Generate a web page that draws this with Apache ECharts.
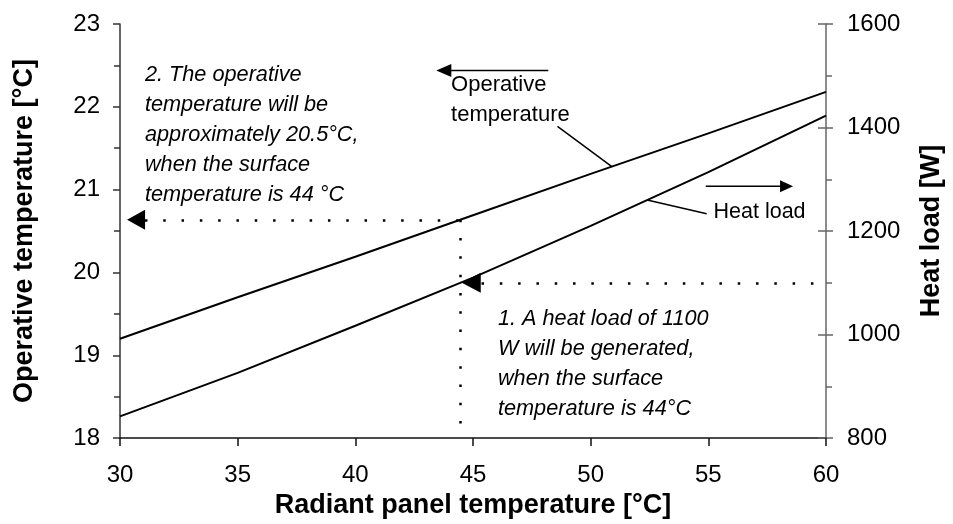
<!DOCTYPE html>
<html>
<head>
<meta charset="utf-8">
<script src="https://cdn.jsdelivr.net/npm/echarts@6/dist/echarts.min.js"></script>
<style>
  html, body { margin: 0; padding: 0; background: #fff; }
  #chart { width: 953px; height: 524px; }
</style>
</head>
<body>
<div id="chart"></div>
<script>
// Radiant panel surface temperature (°C)
const panelTemps = [30, 35, 40, 45, 50, 55, 60];
// Resulting operative temperature (°C), left axis
const operativeTemps = [19.20, 19.70, 20.19, 20.69, 21.19, 21.68, 22.18];
// Panel heat load (W), right axis
const heatLoads = [842, 926, 1017, 1110, 1210, 1314, 1423];

// Axis tick values
const xTicks = [30, 35, 40, 45, 50, 55, 60];
const leftTicks = [18, 19, 20, 21, 22, 23];
const rightTicks = [800, 1000, 1200, 1400, 1600];

const targetLoad = 1100;
const noteLoad = ['1. A heat load of 1100', 'W will be generated,', 'when the surface', 'temperature is 44°C'];
const noteOperative = ['2. The operative', 'temperature will be', 'approximately 20.5°C,', 'when the surface', 'temperature is 44 °C'];
const seriesLabels = ['Operative\ntemperature', 'Heat load'];

const FONT = '"Liberation Sans", Arial, Helvetica, sans-serif';

function interp(xs, ys, x) {
  for (let i = 0; i < xs.length - 1; i++) {
    if (x >= xs[i] && x <= xs[i + 1]) {
      const t = (x - xs[i]) / (xs[i + 1] - xs[i]);
      return ys[i] + t * (ys[i + 1] - ys[i]);
    }
  }
  return ys[ys.length - 1];
}
function inverse(xs, ys, y) {
  for (let i = 0; i < ys.length - 1; i++) {
    if (y >= ys[i] && y <= ys[i + 1]) {
      const t = (y - ys[i]) / (ys[i + 1] - ys[i]);
      return xs[i] + t * (xs[i + 1] - xs[i]);
    }
  }
  return xs[xs.length - 1];
}

// Surface temperature where the heat load reaches the target, and the operative temperature there
const exampleTemp = inverse(panelTemps, heatLoads, targetLoad);
const exampleOperative = interp(panelTemps, operativeTemps, exampleTemp);

const dotted = { color: '#000', width: 2.5, type: [2.5, 15.8], cap: 'butt' };

const axisDark = '#333';
const tickFont = { fontFamily: FONT, fontSize: 24, color: '#000' };
const titleFont = { fontFamily: FONT, fontWeight: 'bold', fontSize: 27, color: '#000' };

const option = {
  animation: false,
  backgroundColor: '#fff',
  grid: { left: 120, right: 123, top: 24, bottom: 79, containLabel: false },
  xAxis: {
    type: 'value',
    min: xTicks[0], max: xTicks[xTicks.length - 1], interval: xTicks[1] - xTicks[0],
    name: 'Radiant panel temperature [°C]',
    nameLocation: 'middle', nameGap: 51,
    nameTextStyle: titleFont,
    axisLine: { lineStyle: { color: '#111', width: 1.5 } },
    axisTick: { show: true, inside: false, length: 8, lineStyle: { color: '#111', width: 1.5 } },
    axisLabel: Object.assign({ margin: 25 }, tickFont),
    splitLine: { show: false }
  },
  yAxis: [
    {
      type: 'value', position: 'left',
      min: leftTicks[0], max: leftTicks[leftTicks.length - 1], interval: leftTicks[1] - leftTicks[0],
      name: 'Operative temperature [°C]',
      nameLocation: 'middle', nameGap: 82, nameRotate: 90,
      nameTextStyle: titleFont,
      axisLine: { show: true, lineStyle: { color: axisDark, width: 1.5 } },
      axisTick: { show: true, inside: false, length: 7, lineStyle: { color: axisDark, width: 1.5 } },
      minorTick: { show: true, splitNumber: 2, length: 6, lineStyle: { color: axisDark, width: 1.5 } },
      axisLabel: Object.assign({ margin: 20 }, tickFont),
      splitLine: { show: false }
    },
    {
      type: 'value', position: 'right',
      min: rightTicks[0], max: rightTicks[rightTicks.length - 1], interval: rightTicks[1] - rightTicks[0],
      name: 'Heat load [W]',
      nameLocation: 'middle', nameGap: 92, nameRotate: 90,
      nameTextStyle: titleFont,
      axisLine: { show: true, lineStyle: { color: '#666', width: 1.5 } },
      axisTick: { show: true, inside: false, length: 7, lineStyle: { color: '#666', width: 1.5 } },
      minorTick: { show: true, splitNumber: 2, length: 6, lineStyle: { color: '#666', width: 1.5 } },
      axisLabel: Object.assign({ margin: 21, formatter: (v) => String(v) }, tickFont),
      splitLine: { show: false }
    },
    {
      // inner half of the crossing major ticks on the heat-load axis
      type: 'value', position: 'right',
      min: rightTicks[0], max: rightTicks[rightTicks.length - 1], interval: rightTicks[1] - rightTicks[0],
      axisLine: { show: false },
      axisTick: { show: true, inside: true, length: 8, lineStyle: { color: '#666', width: 1.5 } },
      axisLabel: { show: false },
      splitLine: { show: false }
    }
  ],
  series: [
    {
      name: 'Operative temperature',
      type: 'line', xAxisIndex: 0, yAxisIndex: 0,
      data: panelTemps.map((t, i) => [t, operativeTemps[i]]),
      showSymbol: false, silent: true,
      lineStyle: { color: '#000', width: 2 },
      markLine: {
        silent: true, symbol: ['none', 'none'], label: { show: false },
        lineStyle: dotted, emphasis: { disabled: true },
        data: [
          [{ coord: [31.06, exampleOperative] }, { coord: [exampleTemp, exampleOperative] }],
          [{ coord: [exampleTemp, exampleOperative] }, { coord: [exampleTemp, leftTicks[0]] }]
        ]
      }
    },
    {
      name: 'Heat load',
      type: 'line', xAxisIndex: 0, yAxisIndex: 1,
      data: panelTemps.map((t, i) => [t, heatLoads[i]]),
      showSymbol: false, silent: true,
      lineStyle: { color: '#000', width: 2 },
      markLine: {
        silent: true, symbol: ['none', 'none'], label: { show: false },
        lineStyle: dotted, emphasis: { disabled: true },
        data: [
          [{ coord: [exampleTemp + 0.9, targetLoad] }, { coord: [xTicks[xTicks.length - 1], targetLoad] }]
        ]
      }
    }
  ]
};

const chart = echarts.init(document.getElementById('chart'), null, { renderer: 'canvas' });
chart.setOption(option);

// Annotation layer, anchored in chart coordinates (panel temperature, operative temperature)
const toPx = (x, y) => chart.convertToPixel({ xAxisIndex: 0, yAxisIndex: 0 }, [x, y]);
const toPxLoad = (x, y) => chart.convertToPixel({ xAxisIndex: 0, yAxisIndex: 1 }, [x, y]);

function head(tip, dir, len, half) {
  const bx = tip[0] - dir * len;
  return {
    type: 'polygon', silent: true,
    shape: { points: [[tip[0], tip[1]], [bx, tip[1] - half], [bx, tip[1] + half]] },
    style: { fill: '#000' }
  };
}
function seg(a, b, w) {
  return { type: 'line', silent: true, shape: { x1: a[0], y1: a[1], x2: b[0], y2: b[1] }, style: { stroke: '#000', lineWidth: w || 1.5 } };
}
function label(text, at, size, italic) {
  return {
    type: 'text', silent: true, x: at[0], y: at[1],
    style: {
      text: text, fill: '#000', fontFamily: FONT, fontSize: size,
      fontStyle: italic ? 'italic' : 'normal', lineHeight: 30,
      align: 'left', verticalAlign: 'top'
    }
  };
}

const graphics = [];
// Operative temperature label, arrow pointing to the left axis, leader to its curve
graphics.push(label(seriesLabels[0], toPx(44.07, 22.445), 22, false));
const opArrowTail = toPx(48.2, 22.44), opArrowTip = toPx(43.44, 22.44);
graphics.push(seg(opArrowTail, [opArrowTip[0] + 12, opArrowTip[1]]));
graphics.push(head(opArrowTip, -1, 15, 6.5));
graphics.push(seg(toPx(48.59, 21.765), toPx(50.9, interp(panelTemps, operativeTemps, 50.9))));

// Heat load label, arrow pointing to the right axis, leader to its curve
graphics.push(label(seriesLabels[1], toPx(55.22, 20.91), 21.5, false));
const hlTail = toPx(54.89, 21.04), hlTip = toPx(58.6, 21.04);
graphics.push(seg(hlTail, [hlTip[0] - 10, hlTip[1]]));
graphics.push(head(hlTip, 1, 13, 6));
graphics.push(seg(toPx(54.93, 20.71), toPxLoad(52.4, interp(panelTemps, heatLoads, 52.4))));

// Arrowheads on the dotted guide lines
graphics.push(head(toPx(30.3, exampleOperative), -1, 18, 10));
graphics.push(head(toPxLoad(exampleTemp + 0.06, targetLoad), -1, 19, 10));

// Worked-example notes
graphics.push(label(noteOperative.join('\n'), toPx(31.06, 22.564), 21.7, true));
graphics.push(label(noteLoad.join('\n'), toPx(46.06, 19.624), 21.7, true));

chart.setOption({ graphic: { elements: graphics } });
</script>
</body>
</html>
